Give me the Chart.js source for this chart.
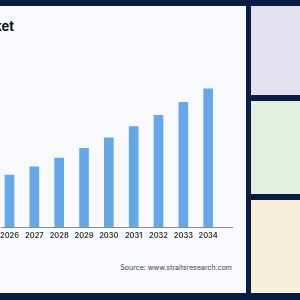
<!DOCTYPE html>
<html>
<head>
<meta charset="utf-8">
<script src="https://cdn.jsdelivr.net/npm/chart.js@4"></script>
<style>
  html, body { margin: 0; padding: 0; }
  body { width: 300px; height: 300px; background: #0a1c40; position: relative; overflow: hidden; font-family: Inter, "Noto Sans", sans-serif; }
  #panel { position: absolute; left: 0; top: 6px; width: 246px; height: 287px; background: #f7f9fd; overflow: hidden; }
  #title { position: absolute; right: 232px; top: 12px; white-space: nowrap; font-size: 13px; font-weight: 700; color: #111; }
  #source { position: absolute; right: 14px; top: 257px; font-size: 7px; color: #444; white-space: nowrap; }
  #chartBox { position: absolute; left: 0; top: 64px; width: 246px; height: 170px; }
  .side { position: absolute; left: 251px; width: 49px; }
</style>
</head>
<body>
<div id="panel">
  <div id="title">Market</div>
  <div id="chartBox"><canvas id="marketChart"></canvas></div>
  <div id="source">Source: www.straitsresearch.com</div>
</div>
<div class="side" style="top:6px;height:89px;background:#e5e0ee"></div>
<div class="side" style="top:101px;height:93px;background:#e3eee0"></div>
<div class="side" style="top:200px;height:93px;background:#f6efd9"></div>
<script>
  // values (arbitrary units)
  const years = [2026, 2027, 2028, 2029, 2030, 2031, 2032, 2033, 2034];
  const marketSize = [5.14, 5.97, 6.84, 7.80, 8.84, 9.94, 11.07, 12.34, 13.70];

  const ctx = document.getElementById('marketChart').getContext('2d');
  const marketChart = new Chart(ctx, {
    type: 'bar',
    data: {
      datasets: [{
        label: 'Market size',
        data: years.map((y, i) => ({ x: y, y: marketSize[i] })),
        backgroundColor: '#67a7e7',
        barThickness: 9
      }]
    },
    options: {
      responsive: true,
      maintainAspectRatio: false,
      animation: false,
      layout: { padding: { top: 15.7, right: 14, left: 0, bottom: 0 } },
      plugins: {
        legend: { display: false },
        tooltip: { enabled: false }
      },
      scales: {
        x: {
          type: 'linear',
          offset: false,
          min: 2025.66,
          max: 2034.96,
          afterBuildTicks: s => { s.ticks = years.map(v => ({ value: v })); },
          grid: { display: true, drawOnChartArea: false, color: 'transparent', tickLength: 4 },
          border: { display: true, color: '#8a8a8a', width: 1 },
          ticks: {
            autoSkip: false,
            maxRotation: 0,
            padding: 0,
            color: '#333',
            font: { family: 'Inter', size: 7.5, weight: '600' },
            callback: v => String(v)
          }
        },
        y: {
          display: false,
          min: 0,
          max: 14
        }
      }
    }
  });
</script>
</body>
</html>
